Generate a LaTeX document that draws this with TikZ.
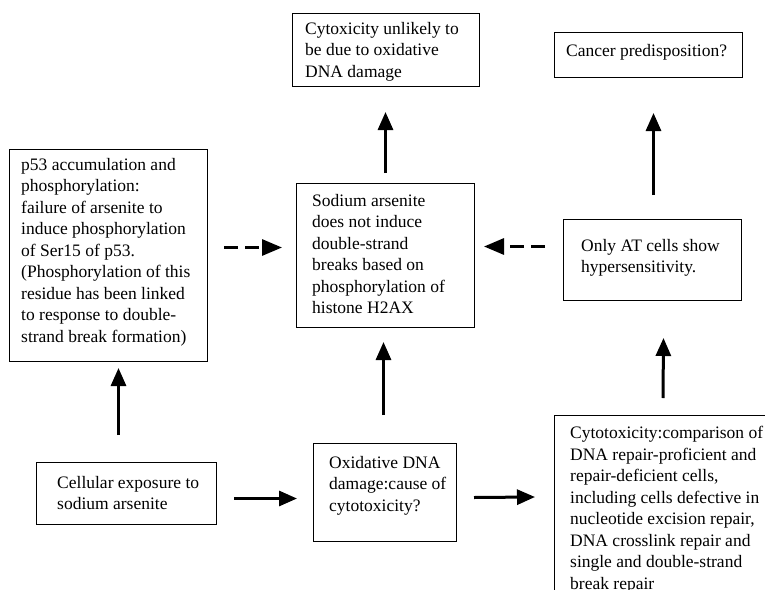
\documentclass[tikz,border=0pt]{standalone}
\usepackage{fontspec}
\setmainfont{Liberation Serif}
\newfontfamily\tnrfont{Liberation Serif}
\usetikzlibrary{arrows.meta}
\tikzset{
  box/.style={draw=black, line width=1pt, inner sep=0pt, anchor=north west},
  txt/.style={anchor=north west, inner sep=0pt, align=left, font=\tnrfont\fontsize{17.5}{21.5}\selectfont},
  arr/.style={line width=3pt, -{Triangle[length=18pt,width=15pt]}},
  darr/.style={line width=3pt, dash pattern=on 14pt off 7pt, -{Triangle[length=20pt,width=16pt]}},
}
\begin{document}
\begin{tikzpicture}[x=1pt,y=-1pt]
\useasboundingbox (0,0) rectangle (765,589);
\clip (0,0) rectangle (765,589);
% boxes
\node[box, minimum width=198pt, minimum height=212pt] (p53) at (9,149) {};
\node[box, minimum width=187pt, minimum height=73pt] (top) at (292,13) {};
\node[box, minimum width=188pt, minimum height=45pt] (cancer) at (554,32) {};
\node[box, minimum width=178pt, minimum height=144pt] (center) at (296,183) {};
\node[box, minimum width=178pt, minimum height=81pt] (at) at (563,219) {};
\node[box, minimum width=180pt, minimum height=62pt] (cell) at (36,462) {};
\node[box, minimum width=143pt, minimum height=98pt] (oxid) at (313,443) {};
\node[box, minimum width=260pt, minimum height=200pt] (br) at (554,415) {};
% texts
\node[txt] (top-t) at (305,22) {Cytoxicity unlikely to\\be due to oxidative\\DNA damage};
\node[txt] (cancer-t) at (566,44) {Cancer predisposition?};
\node[txt] (p53-t) at (21,158) {p53 accumulation and\\phosphorylation:\\failure of arsenite to\\induce phosphorylation\\of Ser15 of p53.\\(Phosphorylation of this\\residue has been linked\\to response to double-\\strand break formation)};
\node[txt] (center-t) at (312,194) {Sodium arsenite\\does not induce\\double-strand\\breaks based on\\phosphorylation of\\histone H2AX};
\node[txt] (at-t) at (581,239) {Only AT cells show\\hypersensitivity.};
\node[txt] (cell-t) at (57,476) {Cellular exposure to\\sodium arsenite};
\node[txt] (oxid-t) at (329,456) {Oxidative DNA\\damage:cause of\\cytotoxicity?};
\node[txt] (br-t) at (570,426) {Cytotoxicity:comparison of\\DNA repair-proficient and\\repair-deficient cells,\\including cells defective in\\nucleotide excision repair,\\DNA crosslink repair and\\single and double-strand\\break repair};
% solid arrows
\draw[arr] ([xshift=-8pt,yshift=27pt]cell.north) -- ([xshift=10pt,yshift=-6pt]p53.south);
\draw[arr] ([xshift=17pt,yshift=-5pt]cell.east) -- ([xshift=-16pt,yshift=-6pt]oxid.west);
\draw[arr] ([xshift=17pt,yshift=-5pt]oxid.east) -- ([xshift=-19pt,yshift=-82pt]br.north west);
\draw[arr] ([xshift=-1.5pt,yshift=28pt]oxid.north) -- ([xshift=-2pt,yshift=-14pt]center.south);
\draw[arr] ([yshift=10pt]center.north) -- ([xshift=-0.5pt,yshift=-25pt]top.south);
\draw[arr] ([xshift=109pt,yshift=17pt]br.north west) -- ([xshift=11pt,yshift=-37pt]at.south);
\draw[arr] ([xshift=1pt,yshift=24pt]at.north) -- ([xshift=5pt,yshift=-35pt]cancer.south);
% dashed arrows
\draw[darr] ([xshift=16pt,yshift=8pt]p53.east) -- ([xshift=-14pt,yshift=8pt]center.west);
\draw[darr] ([xshift=-18pt,yshift=13.5pt]at.west) -- ([xshift=9pt,yshift=9pt]center.east);
\end{tikzpicture}
\end{document}
